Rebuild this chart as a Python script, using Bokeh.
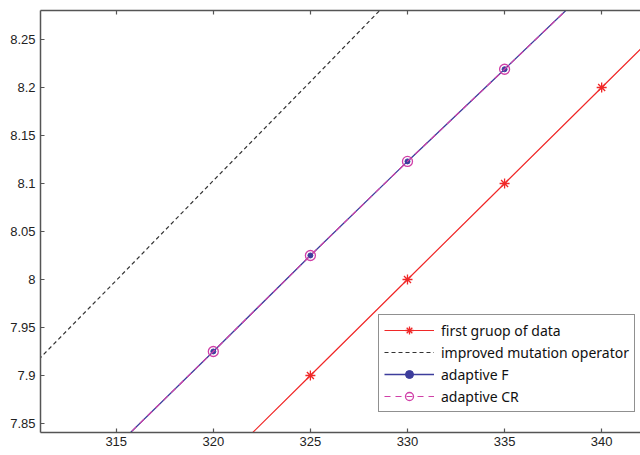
from bokeh.plotting import figure
from bokeh.models import (Range1d, FixedTicker, LinearAxis, Legend, LegendItem,
                          CustomJSTickFormatter)
from bokeh.embed import file_html
from bokeh.resources import INLINE

# ---- data ----
x_first = [320, 325, 330, 335, 340, 345]
y_first = [7.80, 7.90, 8.00, 8.10, 8.20, 8.30]

x_mut = [310, 315, 320, 325, 330]
y_mut = [7.896, 7.999, 8.103, 8.206, 8.310]

x_F = [315, 320, 325, 330, 335, 340]
y_F = [7.826, 7.925, 8.025, 8.123, 8.219, 8.316]

x_CR = [315, 320, 325, 330, 335, 340]
y_CR = [7.826, 7.925, 8.025, 8.123, 8.219, 8.316]

x_ticks = [315, 320, 325, 330, 335, 340]
y_ticks = [7.85, 7.9, 7.95, 8.0, 8.05, 8.1, 8.15, 8.2, 8.25]

labels = ["first gruop of data", "improved mutation operator", "adaptive F", "adaptive CR"]

# ---- figure ----
p = figure(width=640, height=455, output_backend="svg", toolbar_location=None,
           x_range=Range1d(311.1, 342.0), y_range=Range1d(7.8406, 8.2802),
           min_border_left=40, min_border_right=0, min_border_top=10, min_border_bottom=23)
p.outline_line_color = None
p.background_fill_color = "white"
p.border_fill_color = "white"
p.xgrid.visible = False
p.ygrid.visible = False

bottom = p.below[0]
left = p.left[0]

fmt = CustomJSTickFormatter(code="return Number(tick.toFixed(2)).toString();")
bottom.ticker = FixedTicker(ticks=x_ticks)
left.ticker = FixedTicker(ticks=y_ticks)
left.formatter = fmt

top = LinearAxis(ticker=FixedTicker(ticks=x_ticks),
                 formatter=CustomJSTickFormatter(code="return '';"),
                 major_label_text_font_size="0px", major_label_text_color=None,
                 major_label_standoff=0)
p.add_layout(top, "above")

axcol = "#555555"
for ax in [bottom, left, top]:
    ax.axis_line_color = axcol
    ax.axis_line_width = 1.5
    ax.major_tick_line_color = axcol
    ax.major_tick_line_width = 1.2
    ax.major_tick_in = 4
    ax.major_tick_out = 0
    ax.minor_tick_line_color = None
for ax in [bottom, left]:
    ax.major_label_text_font = "Liberation Sans"
    ax.major_label_text_font_size = "13px"
    ax.major_label_text_color = "#222222"
bottom.major_label_standoff = 4
left.major_label_standoff = 5

red = "#f02828"
blue = "#3d3d9c"
mag = "#d040a8"

r1 = p.line(x_first, y_first, line_color=red, line_width=1.2)
r1m = p.scatter(x_first, y_first, marker="asterisk", size=10, line_color=red, line_width=1.3)
r2 = p.line(x_mut, y_mut, line_color="#333333", line_width=1.2, line_dash="4 3")
r3 = p.line(x_F, y_F, line_color=blue, line_width=1.3)
r3m = p.scatter(x_F, y_F, marker="circle", size=5, fill_color=blue, line_color=blue)
r4 = p.line(x_CR, y_CR, line_color=mag, line_width=1.2, line_dash="6 5")
r4m = p.scatter(x_CR, y_CR, marker="circle", size=10, fill_color=None, line_color=mag, line_width=1.3)

legend = Legend(items=[
    LegendItem(label=labels[0], renderers=[r1, r1m]),
    LegendItem(label=labels[1], renderers=[r2]),
    LegendItem(label=labels[2], renderers=[r3, r3m]),
    LegendItem(label=labels[3], renderers=[r4, r4m]),
], location=(338, 20))
legend.label_text_font = "Noto Sans"
legend.label_text_font_size = "14px"
legend.label_text_color = "#111111"
legend.glyph_width = 50
legend.glyph_height = 20
legend.label_height = 20
legend.label_standoff = 7
legend.spacing = 2
legend.padding = 5
legend.margin = 0
legend.border_line_color = "#222222"
legend.border_line_width = 1.3
legend.background_fill_color = "white"
legend.background_fill_alpha = 1.0
p.add_layout(legend, "center")

open("out.html", "w").write(file_html(p, INLINE))
